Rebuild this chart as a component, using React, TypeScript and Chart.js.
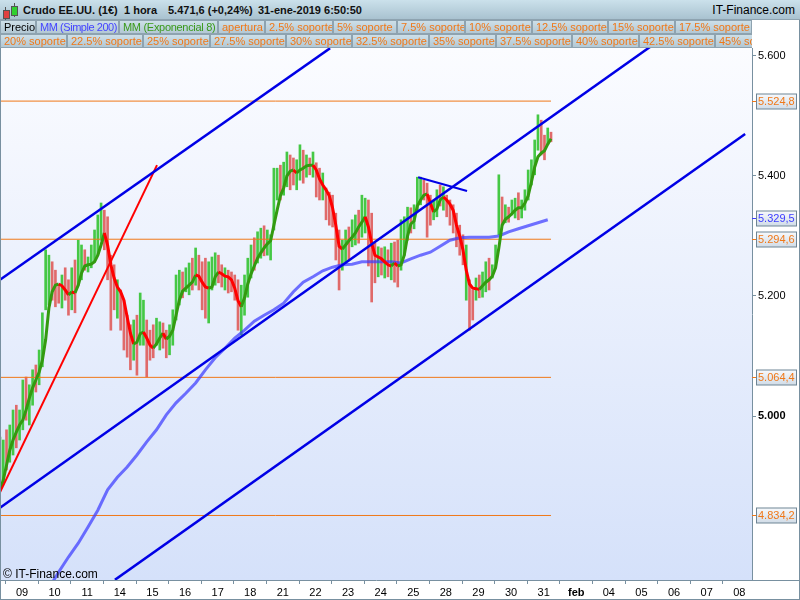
import React, { useEffect, useRef } from "react";
import { Chart, registerables } from "chart.js";

Chart.register(...registerables);

// ---------- data ----------
const dayLabels = ["09", "10", "11", "14", "15", "16", "17", "18", "21", "22", "23", "24", "25", "28", "29", "30", "31", "feb", "04", "05", "06", "07", "08"];

const firstBarDay = -0.675;
const barStepDays = 0.1;

const barHigh = [
  4965, 4960, 4977, 4985, 5010, 5018, 5010, 5060, 5065, 5052,
  5077, 5085, 5110, 5172, 5277, 5268, 5257, 5243, 5218, 5235,
  5247, 5227, 5247, 5260, 5293, 5285, 5277, 5265, 5285, 5310,
  5335, 5355, 5343, 5332, 5268, 5252, 5227, 5210, 5193, 5168,
  5152, 5160, 5168, 5205, 5193, 5160, 5143, 5152, 5163, 5157,
  5155, 5143, 5152, 5177, 5235, 5243, 5240, 5247, 5255, 5263,
  5280, 5268, 5257, 5263, 5257, 5265, 5272, 5268, 5252, 5247,
  5243, 5240, 5235, 5227, 5218, 5235, 5263, 5285, 5297, 5307,
  5313, 5317, 5310, 5302, 5413, 5413, 5418, 5423, 5440, 5435,
  5430, 5427, 5452, 5443, 5435, 5430, 5440, 5422, 5413, 5405,
  5380, 5373, 5368, 5338, 5310, 5293, 5310, 5315, 5327, 5335,
  5343, 5368, 5363, 5360, 5338, 5288, 5282, 5280, 5282, 5277,
  5288, 5290, 5293, 5327, 5332, 5348, 5347, 5352, 5398, 5398,
  5393, 5388, 5368, 5360, 5377, 5385, 5382, 5368, 5360, 5352,
  5338, 5318, 5302, 5285, 5227, 5210, 5230, 5235, 5240, 5257,
  5263, 5252, 5285, 5402, 5365, 5352, 5348, 5360, 5363, 5372,
  5360, 5377, 5410, 5427, 5460, 5502, 5493, 5468, 5480, 5473,
];

const barLow = [
  4885, 4888, 4910, 4923, 4935, 4947, 4960, 4977, 4993, 4985,
  5018, 5040, 5052, 5082, 5177, 5185, 5193, 5182, 5188, 5180,
  5193, 5168, 5177, 5172, 5218, 5227, 5243, 5240, 5247, 5257,
  5268, 5293, 5277, 5227, 5143, 5177, 5163, 5143, 5110, 5098,
  5077, 5093, 5068, 5118, 5118, 5065, 5093, 5097, 5118, 5110,
  5113, 5097, 5102, 5118, 5160, 5185, 5197, 5207, 5202, 5210,
  5218, 5210, 5177, 5163, 5155, 5210, 5218, 5222, 5215, 5210,
  5205, 5207, 5193, 5143, 5135, 5168, 5198, 5230, 5243, 5255,
  5263, 5267, 5268, 5260, 5310, 5360, 5360, 5368, 5382, 5377,
  5385, 5377, 5393, 5388, 5398, 5402, 5398, 5365, 5360, 5360,
  5327, 5318, 5315, 5260, 5210, 5243, 5257, 5260, 5282, 5285,
  5288, 5298, 5305, 5250, 5190, 5222, 5232, 5235, 5230, 5232,
  5227, 5223, 5215, 5243, 5268, 5293, 5305, 5312, 5343, 5352,
  5360, 5298, 5318, 5327, 5332, 5350, 5343, 5332, 5318, 5305,
  5282, 5268, 5252, 5193, 5143, 5160, 5193, 5197, 5198, 5207,
  5210, 5230, 5247, 5302, 5318, 5322, 5323, 5335, 5330, 5327,
  5330, 5343, 5360, 5385, 5402, 5443, 5435, 5427, 5452, 5457,
];

// u = bar closed up (green), d = bar closed down (red)
const barDirection =
  "uuduuduuduuduu" + "uudddudduduuduuuuud" + "dddudddduduuddd" + "uudduu" +
  "uuduudud" + "dduu" + "uddudd" + "ddu" + "uuuduuduu" + "uuduudduududu" +
  "dduddddd" + "uuduuduu" + "dddududud" + "d" + "uuuduuud" + "dduududdddddudd" +
  "uduuduu" + "ududuuduuuuu" + "uddud";

const ema8 = [
  4877, 4893, 4918, 4943, 4960, 4973, 4985, 4993, 5010, 5030,
  5047, 5060, 5073, 5093, 5127, 5180, 5207, 5218, 5220, 5217,
  5210, 5202, 5207, 5205, 5218, 5238, 5250, 5252, 5253, 5257,
  5268, 5285, 5305, 5285, 5252, 5230, 5215, 5207, 5193, 5165,
  5138, 5120, 5123, 5137, 5140, 5130, 5118, 5113, 5120, 5130,
  5138, 5128, 5133, 5143, 5168, 5193, 5208, 5213, 5218, 5223,
  5235, 5233, 5223, 5215, 5213, 5215, 5232, 5240, 5237, 5233,
  5232, 5227, 5213, 5192, 5182, 5197, 5220, 5237, 5250, 5263,
  5272, 5280, 5287, 5292, 5318, 5343, 5367, 5380, 5400, 5408,
  5410, 5405, 5410, 5413, 5417, 5418, 5418, 5410, 5395, 5385,
  5377, 5367, 5347, 5318, 5283, 5278, 5285, 5292, 5298, 5305,
  5315, 5323, 5332, 5315, 5288, 5268, 5265, 5262, 5257, 5252,
  5250, 5255, 5250, 5252, 5268, 5300, 5320, 5325, 5350, 5360,
  5368, 5370, 5355, 5340, 5345, 5360, 5365, 5360, 5353, 5343,
  5318, 5300, 5277, 5243, 5220, 5213, 5212, 5211, 5217, 5223,
  5227, 5233, 5247, 5280, 5318, 5328, 5332, 5337, 5343, 5347,
  5347, 5355, 5367, 5390, 5415, 5432, 5438, 5442, 5453, 5462,
];

const sma200FirstDay = 0.525;
const sma200StepDays = 0.3;
const sma200 = [
  4688, 4713, 4740, 4765, 4788, 4815, 4843, 4877, 4898, 4915,
  4935, 4957, 4977, 5002, 5022, 5038, 5055, 5077, 5097, 5113,
  5130, 5143, 5158, 5168, 5177, 5188, 5207, 5223, 5232, 5242,
  5248, 5252, 5253, 5257, 5257, 5257, 5257, 5255, 5262, 5268,
  5273, 5283, 5293, 5297, 5298, 5298, 5298, 5300, 5307, 5312,
  5317, 5322, 5327,
];
const sma200Last = 5329.5;

const supportLevels = [5524.8, 5294.6, 5064.4, 4834.2];
const priceTicks = [5000, 5200, 5400, 5600];

const channelUpper = [{ x: -0.675, y: 5227 }, { x: 9.45, y: 5613 }];
const channelMiddle = [{ x: -0.675, y: 4847 }, { x: 19.26, y: 5615 }];
const channelLower = [{ x: 2.85, y: 4727 }, { x: 22.18, y: 5470 }];
const wedgeLine = [{ x: 12.15, y: 5398 }, { x: 13.65, y: 5375 }];
const redTrend = [{ x: -0.675, y: 4873 }, { x: 4.14, y: 5418 }];

const legendRow1 = [
  { t: "Precio", c: "#000000", l: 0, w: 36, s: 0 },
  { t: "MM (Simple 200)", c: "#4545ff", l: 36, w: 83, s: -0.45 },
  { t: "MM (Exponencial 8)", c: "#3a9a1a", l: 119, w: 99, s: -0.3 },
  { t: "apertura", c: "#f07818", l: 218, w: 47, s: 0 },
  { t: "2.5% soporte", c: "#f07818", l: 265, w: 68, s: 0 },
  { t: "5% soporte", c: "#f07818", l: 333, w: 64, s: 0 },
  { t: "7.5% soporte", c: "#f07818", l: 397, w: 68, s: 0 },
  { t: "10% soporte", c: "#f07818", l: 465, w: 67, s: 0 },
  { t: "12.5% soporte", c: "#f07818", l: 532, w: 76, s: 0 },
  { t: "15% soporte", c: "#f07818", l: 608, w: 67, s: 0 },
  { t: "17.5% soporte", c: "#f07818", l: 675, w: 77, s: 0 },
];
const legendRow2 = [
  { t: "20% soporte", c: "#f07818", l: 0, w: 67, s: 0 },
  { t: "22.5% soporte", c: "#f07818", l: 67, w: 76, s: 0 },
  { t: "25% soporte", c: "#f07818", l: 143, w: 67, s: 0 },
  { t: "27.5% soporte", c: "#f07818", l: 210, w: 76, s: 0 },
  { t: "30% soporte", c: "#f07818", l: 286, w: 66, s: 0 },
  { t: "32.5% soporte", c: "#f07818", l: 352, w: 77, s: 0 },
  { t: "35% soporte", c: "#f07818", l: 429, w: 67, s: 0 },
  { t: "37.5% soporte", c: "#f07818", l: 496, w: 76, s: 0 },
  { t: "40% soporte", c: "#f07818", l: 572, w: 67, s: 0 },
  { t: "42.5% soporte", c: "#f07818", l: 639, w: 76, s: 0 },
  { t: "45% soporte", c: "#f07818", l: 715, w: 76, s: 0 },
];

// ---------- helpers ----------
const FONT = '"Liberation Sans", Arial, sans-serif';
const ORANGE = "#f07818";
const AXIS = "#7890a0";

function fmt(v: number, dec: number) {
  const s = v.toFixed(dec);
  const [i, f] = s.split(".");
  const ii = i.replace(/\B(?=(\d{3})+(?!\d))/g, ".");
  return f ? ii + "," + f : ii;
}

const bgPlugin = {
  id: "bgPlugin",
  beforeDraw(chart: any) {
    const { ctx, chartArea: a } = chart;
    ctx.save();
    ctx.fillStyle = "#ffffff";
    ctx.fillRect(0, 0, chart.width, chart.height);
    const g = ctx.createLinearGradient(0, a.top, 0, a.bottom);
    g.addColorStop(0, "#fbfcff");
    g.addColorStop(1, "#d5e1fa");
    ctx.fillStyle = g;
    ctx.fillRect(a.left, a.top, a.right - a.left, a.bottom - a.top);
    ctx.restore();
  },
};

const axisBoxPlugin = {
  id: "axisBoxPlugin",
  afterDraw(chart: any) {
    const { ctx, chartArea: a } = chart;
    const ys = chart.scales.y;
    ctx.save();
    const items = [
      ...supportLevels.map((v) => ({ v, c: ORANGE })),
      { v: sma200Last, c: "#3c3cff" },
    ];
    items.forEach(({ v, c }) => {
      const py = Math.round(ys.getPixelForValue(v)) + 0.5;
      ctx.strokeStyle = c;
      ctx.lineWidth = 1;
      ctx.beginPath();
      ctx.moveTo(a.right, py);
      ctx.lineTo(a.right + 4, py);
      ctx.stroke();
      const g = ctx.createLinearGradient(0, py - 7, 0, py + 7);
      g.addColorStop(0, "#f6f8fb");
      g.addColorStop(1, "#d2dde8");
      ctx.fillStyle = g;
      ctx.fillRect(a.right + 4.5, py - 7.5, 40, 15);
      ctx.strokeStyle = "#6f8595";
      ctx.strokeRect(a.right + 4.5, py - 7.5, 40, 15);
      ctx.fillStyle = c;
      ctx.font = "11px " + FONT;
      ctx.textBaseline = "middle";
      ctx.textAlign = "left";
      ctx.fillText(fmt(v, 1), a.right + 6, py + 0.5);
    });
    // frame lines
    ctx.strokeStyle = AXIS;
    ctx.lineWidth = 1;
    ctx.beginPath();
    ctx.moveTo(a.right, a.bottom + 0.5);
    ctx.lineTo(chart.width, a.bottom + 0.5);
    ctx.moveTo(0.5, a.top);
    ctx.lineTo(0.5, chart.height);
    ctx.moveTo(0, chart.height - 0.5);
    ctx.lineTo(chart.width, chart.height - 0.5);
    ctx.moveTo(chart.width - 0.5, 0);
    ctx.lineTo(chart.width - 0.5, chart.height);
    ctx.stroke();
    ctx.restore();
  },
};

export default function App() {
  const ref = useRef<HTMLCanvasElement | null>(null);

  useEffect(() => {
    if (!ref.current) return;
    const lastBarDay = firstBarDay + (barHigh.length - 1) * barStepDays;
    const bars = barHigh.map((h, i) => ({ x: firstBarDay + i * barStepDays, y: [barLow[i], h] }));
    const barColors = barHigh.map((_, i) => (barDirection[i] === "d" ? "#e06a6a" : "#45c845"));
    const emaPts = ema8.map((v, i) => ({ x: firstBarDay + i * barStepDays, y: v }));
    const smaPts = sma200.map((v, i) => ({ x: sma200FirstDay + i * sma200StepDays, y: v }));

    const line = (data: any[], color: string, width: number, order: number) => ({
      type: "line" as const,
      data,
      borderColor: color,
      borderWidth: width,
      pointRadius: 0,
      tension: 0,
      fill: false,
      clip: 0,
      order,
    });

    const chart = new Chart(ref.current, {
      type: "bar",
      data: {
        datasets: [
          line(channelUpper, "#0000e6", 2.5, 1),
          line(channelMiddle, "#0000e6", 2.5, 1),
          line(channelLower, "#0000e6", 2.5, 1),
          line(wedgeLine, "#0000e6", 2, 1),
          line(redTrend, "#ff0000", 2, 1),
          {
            ...line(emaPts, "#339a10", 3, 3),
            segment: {
              borderColor: (c: any) => (c.p1.parsed.y >= c.p0.parsed.y ? "#339a10" : "#ff0000"),
            },
          } as any,
          line(smaPts, "rgba(60,60,255,0.72)", 3, 5),
          ...supportLevels.map((v) =>
            line([{ x: firstBarDay, y: v }, { x: lastBarDay, y: v }], ORANGE, 1, 9)
          ),
          {
            type: "bar" as const,
            data: bars as any,
            backgroundColor: barColors,
            barThickness: 2,
            grouped: false,
            order: 10,
          } as any,
        ],
      },
      options: {
        animation: false,
        responsive: false,
        devicePixelRatio: 1,
        layout: { padding: { top: 48, left: 0, right: 0, bottom: 0 } },
        plugins: { legend: { display: false }, tooltip: { enabled: false } },
        font: { family: FONT } as any,
        scales: {
          x: {
            type: "linear",
            min: -0.675,
            max: 22.39,
            offset: false,
            afterFit: (s: any) => {
              s.height = 20;
            },
            afterBuildTicks: (s: any) => {
              s.ticks = dayLabels.map((_, i) => ({ value: i }));
            },
            grid: { drawOnChartArea: false, tickLength: 4, color: AXIS },
            border: { display: true, color: AXIS },
            ticks: {
              autoSkip: false,
              maxRotation: 0,
              padding: 2,
              color: "#000000",
              font: (c: any) => ({
                family: FONT,
                size: 11,
                weight: dayLabels[c.tick?.value] === "feb" ? "bold" : "normal",
              }),
              callback: (v: any) => dayLabels[v] ?? "",
            },
          },
          y: {
            type: "linear",
            position: "right",
            min: 4726.7,
            max: 5613.3,
            afterFit: (s: any) => {
              s.width = 48;
            },
            afterBuildTicks: (s: any) => {
              s.ticks = priceTicks.map((v) => ({ value: v }));
            },
            grid: { drawOnChartArea: false, tickLength: 4, color: AXIS },
            border: { display: true, color: AXIS },
            ticks: {
              padding: 2,
              color: "#000000",
              font: (c: any) => ({
                family: FONT,
                size: 11,
                weight: c.tick?.value === 5000 ? "bold" : "normal",
              }),
              callback: (v: any) => fmt(Number(v), 0),
            },
          },
        },
      } as any,
      plugins: [bgPlugin, axisBoxPlugin],
    });
    return () => chart.destroy();
  }, []);

  const cell = (it: { t: string; c: string; l: number; w: number; s: number }, top: number, key: number) => (
    <div
      key={key}
      style={{
        position: "absolute",
        left: it.l,
        top,
        width: it.w,
        height: 14,
        boxSizing: "border-box",
        border: "1px solid #8ea3b0",
        background: "linear-gradient(#cddfe8, #b3c8d4)",
        color: it.c,
        font: "11px " + FONT,
        lineHeight: "12px",
        letterSpacing: it.s,
        paddingLeft: 3,
        whiteSpace: "nowrap",
        overflow: "hidden",
      }}
    >
      {it.t}
    </div>
  );

  return (
    <div style={{ position: "absolute", left: 0, top: 0, width: 800, height: 600, overflow: "hidden", fontFamily: FONT }}>
      <canvas ref={ref} width={800} height={600} style={{ position: "absolute", left: 0, top: 0, width: 800, height: 600 }} />
      <div
        style={{
          position: "absolute",
          left: 0,
          top: 0,
          width: 800,
          height: 20,
          boxSizing: "border-box",
          borderBottom: "1px solid #8ea3b0",
          background: "linear-gradient(#cbe1eb, #a9c2d0)",
        }}
      >
        <div style={{ position: "absolute", left: 5, top: 7, width: 1, height: 13, background: "#555" }} />
        <div style={{ position: "absolute", left: 3, top: 10, width: 5, height: 7, background: "#e04040", border: "1px solid #555" }} />
        <div style={{ position: "absolute", left: 14, top: 3, width: 1, height: 14, background: "#555" }} />
        <div style={{ position: "absolute", left: 11, top: 6, width: 5, height: 8, background: "#30d030", border: "1px solid #555" }} />
        {[
          { t: "Crudo EE.UU. (1€)", l: 23 },
          { t: "1 hora", l: 124 },
          { t: "5.471,6 (+0,24%)", l: 168 },
          { t: "31-ene-2019 6:50:50", l: 258 },
        ].map((p, i) => (
          <span
            key={i}
            style={{ position: "absolute", left: p.l, top: 4, font: "bold 11px " + FONT, color: "#111", whiteSpace: "nowrap" }}
          >
            {p.t}
          </span>
        ))}
        <span style={{ position: "absolute", right: 5, top: 3, font: "12px " + FONT, color: "#000", whiteSpace: "nowrap" }}>
          IT-Finance.com
        </span>
      </div>
      <div style={{ position: "absolute", left: 0, top: 20, width: 752, height: 28, overflow: "hidden" }}>
        {legendRow1.map((it, i) => cell(it, 0, i))}
        {legendRow2.map((it, i) => cell(it, 14, 100 + i))}
      </div>
      <div style={{ position: "absolute", left: 3, top: 567, font: "12px " + FONT, color: "#000", whiteSpace: "nowrap" }}>
        © IT-Finance.com
      </div>
    </div>
  );
}
